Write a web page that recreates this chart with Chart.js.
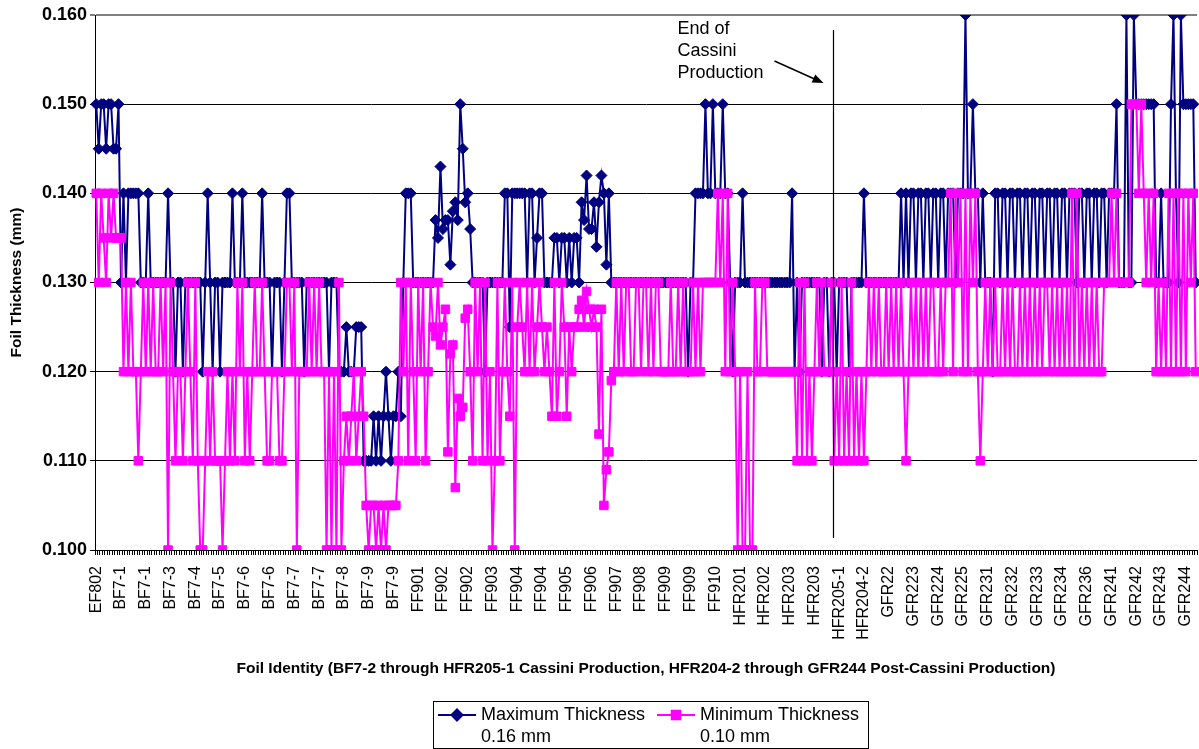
<!DOCTYPE html>
<html>
<head>
<meta charset="utf-8">
<script src="https://cdn.jsdelivr.net/npm/chart.js@4.4.0/dist/chart.umd.min.js"></script>
<style>
    body { margin: 0; background: #fff; }
</style>
</head>
<body>
<canvas id="myChart" width="1199" height="749"></canvas>
<script>
// one label every 10 foils on the category axis
var tickLabels = ["EF802","BF7-1","BF7-1","BF7-3","BF7-4","BF7-5","BF7-6","BF7-6","BF7-7","BF7-7",
    "BF7-8","BF7-9","BF7-9","FF901","FF902","FF902","FF903","FF904","FF904","FF905",
    "FF906","FF907","FF908","FF909","FF909","FF910","HFR201","HFR202","HFR203","HFR203",
    "HFR205-1","HFR204-2","GFR22","GFR223","GFR224","GFR225","GFR231","GFR232","GFR233","GFR234",
    "GFR236","GFR241","GFR242","GFR243","GFR244"];

// thickness values (mm), one line = 10 foils
var maxThickness = [
    .15,.145,.15,.15,.145,.15,.15,.145,.145,.15,
    .13,.14,.13,.14,.14,.14,.14,.14,.13,.13,
    .13,.14,.13,.13,.13,.13,.13,.13,.13,.14,
    .13,.13,.12,.13,.13,.12,.13,.13,.13,.13,
    .13,.13,.13,.12,.13,.14,.13,.12,.13,.13,
    .12,.13,.13,.13,.13,.14,.13,.13,.13,.14,
    .13,.13,.13,.13,.13,.13,.13,.14,.13,.13,
    .13,.12,.13,.13,.13,.12,.13,.14,.14,.13,
    .13,.13,.13,.13,.12,.13,.13,.13,.13,.13,
    .13,.13,.13,.13,.12,.13,.13,.13,.12,.12,
    .12,.125,.12,.12,.12,.125,.125,.125,.11,.11,
    .11,.11,.115,.11,.115,.11,.115,.12,.115,.11,
    .115,.115,.12,.115,.13,.14,.14,.14,.13,.13,
    .13,.13,.13,.13,.13,.13,.13,.137,.135,.143,
    .136,.137,.137,.132,.138,.139,.137,.15,.145,.139,
    .14,.136,.13,.13,.13,.13,.13,.12,.13,.13,
    .13,.13,.13,.13,.13,.14,.14,.125,.14,.14,
    .14,.14,.14,.14,.13,.14,.14,.13,.135,.14,
    .14,.13,.13,.13,.13,.135,.135,.13,.135,.135,
    .13,.135,.13,.135,.135,.13,.139,.137,.142,.136,
    .136,.139,.134,.139,.142,.14,.132,.14,.13,.13,
    .13,.13,.13,.13,.13,.13,.13,.13,.13,.13,
    .13,.13,.13,.13,.13,.13,.13,.13,.13,.13,
    .13,.13,.13,.13,.13,.13,.13,.13,.13,.12,
    .13,.13,.14,.14,.14,.14,.15,.14,.14,.15,
    .14,.14,.14,.15,.14,.14,.13,.12,.13,.13,
    .13,.14,.13,.13,.13,.13,.13,.13,.13,.13,
    .13,.13,.13,.13,.13,.13,.13,.13,.13,.13,
    .13,.14,.12,.13,.12,.13,.13,.13,.13,.13,
    .13,.13,.13,.12,.13,.13,.12,.13,.13,.12,
    .13,.13,.13,.13,.12,.13,.13,.13,.13,.13,
    .14,.13,.13,.13,.13,.13,.13,.13,.13,.13,
    .13,.13,.13,.13,.13,.14,.13,.14,.13,.14,
    .14,.13,.14,.14,.13,.14,.14,.13,.14,.14,
    .13,.14,.14,.13,.14,.14,.14,.13,.14,.14,
    .14,.16,.14,.14,.15,.14,.14,.13,.14,.13,
    .13,.13,.12,.14,.14,.13,.14,.14,.13,.14,
    .14,.13,.14,.14,.13,.14,.14,.13,.14,.14,
    .13,.14,.14,.13,.14,.14,.13,.14,.14,.13,
    .14,.14,.13,.14,.14,.14,.13,.14,.14,.13,
    .14,.14,.13,.14,.14,.13,.14,.14,.13,.14,
    .14,.14,.15,.13,.13,.13,.16,.13,.13,.16,
    .15,.15,.15,.15,.15,.15,.15,.15,.13,.13,
    .14,.13,.13,.13,.15,.16,.14,.13,.16,.15,
    .15,.15,.15,.15,.13
];

var minThickness = [
    .14,.13,.14,.135,.13,.14,.135,.14,.135,.135,
    .135,.12,.13,.12,.13,.12,.12,.11,.12,.13,
    .12,.13,.12,.13,.12,.12,.13,.12,.13,.10,
    .13,.12,.11,.12,.12,.11,.12,.13,.12,.11,
    .13,.11,.10,.10,.11,.12,.11,.12,.11,.11,
    .11,.10,.11,.12,.11,.12,.11,.13,.12,.13,
    .11,.12,.11,.12,.13,.12,.12,.13,.12,.11,
    .11,.12,.12,.12,.11,.11,.12,.13,.13,.12,
    .13,.10,.12,.12,.12,.12,.13,.12,.13,.12,
    .13,.12,.12,.10,.12,.10,.12,.10,.13,.10,
    .11,.115,.11,.115,.12,.11,.115,.12,.115,.105,
    .10,.105,.105,.10,.105,.10,.105,.10,.105,.105,
    .105,.105,.11,.13,.12,.13,.11,.13,.12,.11,
    .13,.12,.13,.11,.12,.13,.125,.124,.13,.123,
    .125,.127,.111,.122,.123,.107,.117,.115,.116,.126,
    .127,.12,.11,.13,.12,.13,.11,.13,.11,.12,
    .10,.11,.13,.11,.12,.13,.12,.115,.13,.10,
    .125,.13,.125,.12,.13,.12,.13,.12,.125,.13,
    .125,.12,.125,.12,.115,.13,.115,.12,.13,.125,
    .115,.125,.12,.125,.125,.127,.128,.125,.129,.127,
    .125,.127,.125,.113,.127,.105,.109,.111,.119,.12,
    .13,.12,.13,.12,.13,.13,.12,.12,.13,.13,
    .12,.13,.13,.12,.13,.12,.13,.13,.12,.12,
    .12,.12,.13,.12,.12,.13,.12,.13,.12,.12,
    .12,.13,.12,.13,.12,.13,.13,.13,.13,.13,
    .13,.14,.13,.14,.12,.14,.12,.13,.12,.10,
    .12,.10,.10,.12,.10,.10,.13,.12,.12,.13,
    .13,.12,.12,.12,.12,.12,.12,.12,.12,.12,
    .12,.12,.12,.11,.13,.11,.13,.11,.12,.11,
    .12,.13,.12,.13,.12,.12,.12,.13,.11,.12,
    .11,.13,.11,.12,.11,.13,.11,.12,.11,.12,
    .11,.12,.13,.12,.13,.12,.13,.12,.12,.13,
    .12,.13,.12,.13,.12,.13,.12,.11,.12,.13,
    .12,.13,.12,.13,.12,.13,.12,.13,.13,.12,
    .12,.13,.12,.13,.13,.14,.12,.14,.13,.14,
    .12,.14,.12,.14,.13,.14,.12,.11,.12,.13,
    .12,.13,.12,.13,.12,.12,.13,.12,.13,.12,
    .13,.12,.12,.13,.12,.13,.12,.13,.12,.13,
    .12,.13,.12,.13,.13,.12,.13,.12,.13,.12,
    .13,.12,.13,.12,.14,.12,.14,.12,.13,.12,
    .13,.12,.13,.12,.13,.12,.12,.13,.13,.13,
    .14,.13,.14,.13,.13,.13,.13,.13,.15,.15,
    .15,.14,.15,.14,.13,.14,.13,.14,.12,.13,
    .12,.13,.12,.14,.12,.14,.12,.14,.12,.14,
    .12,.14,.13,.14,.12
];

var seriesNames = ["Maximum Thickness", "Minimum Thickness"];
var seriesNotes = ["0.16 mm", "0.10 mm"];
var seriesColors = ["#000080", "#FF00FF"];

// last Cassini foil / first post-Cassini foil (category indexes)
var cassiniLast = 297;
var noteLines = ["End of", "Cassini", "Production"];

var police = "'Liberation Sans', Arial, sans-serif";

var foilIds = maxThickness.map(function(v, i) {
    return i % 10 === 0 ? tickLabels[i / 10] : "";
});

// vertical line, note and arrow for the end of Cassini production
var finCassini = {
    id: "finCassini",
    afterDatasetsDraw: function(chart) {
        var ctx = chart.ctx;
        var x = chart.scales.x;
        var area = chart.chartArea;
        var lx = Math.round((x.getPixelForValue(cassiniLast) + x.getPixelForValue(cassiniLast + 1)) / 2) + 0.5;
        ctx.save();
        ctx.strokeStyle = "#000";
        ctx.lineWidth = 1.2;
        ctx.beginPath();
        ctx.moveTo(lx, area.top + 15);
        ctx.lineTo(lx, area.bottom - 12);
        ctx.stroke();

        ctx.fillStyle = "#000";
        ctx.font = "18px " + police;
        ctx.textBaseline = "middle";
        noteLines.forEach(function(t, i) {
            ctx.fillText(t, lx - 156, area.top + 14 + i * 22);
        });

        // arrow
        var x0 = lx - 59, y0 = area.top + 46, x1 = lx - 10, y1 = area.top + 68;
        var ang = Math.atan2(y1 - y0, x1 - x0);
        ctx.lineWidth = 1.5;
        ctx.beginPath();
        ctx.moveTo(x0, y0);
        ctx.lineTo(x1 - 8 * Math.cos(ang), y1 - 8 * Math.sin(ang));
        ctx.stroke();
        ctx.beginPath();
        ctx.moveTo(x1, y1);
        ctx.lineTo(x1 - 11 * Math.cos(ang) + 4.5 * Math.sin(ang), y1 - 11 * Math.sin(ang) - 4.5 * Math.cos(ang));
        ctx.lineTo(x1 - 11 * Math.cos(ang) - 4.5 * Math.sin(ang), y1 - 11 * Math.sin(ang) + 4.5 * Math.cos(ang));
        ctx.closePath();
        ctx.fill();
        ctx.restore();
    }
};

// boxed legend with two-line labels
var legendeBoite = {
    id: "legendeBoite",
    afterDraw: function(chart) {
        var ctx = chart.ctx;
        ctx.save();
        ctx.strokeStyle = "#000";
        ctx.lineWidth = 1;
        ctx.strokeRect(433.5, 701.5, 435, 47);

        var entrees = [{ x: 438, mark: "rectRot" }, { x: 657, mark: "rect" }];
        entrees.forEach(function(e, i) {
            var ds = chart.data.datasets[i];
            ctx.strokeStyle = ds.borderColor;
            ctx.lineWidth = 2;
            ctx.beginPath();
            ctx.moveTo(e.x, 715);
            ctx.lineTo(e.x + 38, 715);
            ctx.stroke();
            Chart.helpers.drawPoint(ctx, {
                pointStyle: e.mark, radius: ds.pointRadius, borderWidth: 1
            }, e.x + 19, 715);
            ctx.fillStyle = ds.borderColor;
            ctx.fill();
            ctx.fillStyle = "#000";
            ctx.font = "18px " + police;
            ctx.textBaseline = "middle";
            ctx.fillText(seriesNames[i], e.x + 43, 715);
            ctx.fillText(seriesNotes[i], e.x + 43, 737);
        });
        ctx.restore();
    }
};

var ctx = document.getElementById("myChart").getContext("2d");
var myChart = new Chart(ctx, {
    type: "line",
    data: {
        labels: foilIds,
        datasets: [
            {
                label: seriesNames[0],
                data: maxThickness,
                borderColor: seriesColors[0],
                backgroundColor: seriesColors[0],
                borderWidth: 2,
                pointStyle: "rectRot",
                pointRadius: 5.5,
                pointBorderWidth: 1,
                tension: 0,
                order: 2
            },
            {
                label: seriesNames[1],
                data: minThickness,
                borderColor: seriesColors[1],
                backgroundColor: seriesColors[1],
                borderWidth: 2,
                pointStyle: "rect",
                pointRadius: 6,
                pointBorderWidth: 1,
                tension: 0,
                order: 1
            }
        ]
    },
    options: {
        responsive: false,
        animation: false,
        layout: { autoPadding: false, padding: { left: 5, right: 2, top: 15, bottom: 69 } },
        plugins: {
            legend: { display: false },
            tooltip: { enabled: false }
        },
        scales: {
            x: {
                offset: true,
                grid: { drawOnChartArea: false, drawTicks: true, tickLength: 5, color: "#000", offset: true },
                border: { color: "#000", width: 1 },
                ticks: {
                    autoSkip: false,
                    maxRotation: 90,
                    minRotation: 90,
                    padding: 11,
                    color: "#000",
                    font: { family: police, size: 16 },
                    callback: function(v, i) { return foilIds[i]; }
                },
                title: {
                    display: true,
                    text: "Foil Identity (BF7-2 through HFR205-1 Cassini Production, HFR204-2 through GFR244 Post-Cassini Production)",
                    color: "#000",
                    font: { family: police, size: 15.5, weight: "bold" },
                    padding: { top: 4, bottom: 2 }
                },
                afterFit: function(s) {
                    s.height = 130;
                    s.paddingLeft = 0;
                    s.paddingRight = 0;
                }
            },
            y: {
                min: 0.1,
                max: 0.16,
                grid: {
                    color: function(c) { return Math.abs(c.tick.value - 0.16) < 1e-9 ? "#808080" : "#000"; },
                    lineWidth: function(c) { return Math.abs(c.tick.value - 0.16) < 1e-9 ? 2 : 1; },
                    tickLength: 5
                },
                border: { color: "#000", width: 1 },
                ticks: {
                    stepSize: 0.01,
                    padding: 3,
                    color: "#000",
                    font: { family: police, size: 18, weight: "bold" },
                    callback: function(v) { return v.toFixed(3); }
                },
                title: {
                    display: true,
                    text: "Foil Thickness (mm)",
                    color: "#000",
                    font: { family: police, size: 15.5, weight: "bold" },
                    padding: { top: 2, bottom: 4 }
                },
                afterFit: function(s) { s.width = 90; }
            }
        }
    },
    plugins: [finCassini, legendeBoite]
});
</script>
</body>
</html>
